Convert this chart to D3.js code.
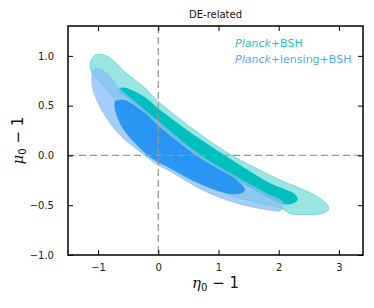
<!DOCTYPE html>
<html>
<head>
<meta charset="utf-8">
<script src="https://cdn.jsdelivr.net/npm/d3@7"></script>
<style>
  body { margin: 0; background: #fff; }
  text { font-family: "DejaVu Sans", sans-serif; }
</style>
</head>
<body>
<svg class="chart"></svg>
<script>
// Contour outlines, in (eta0-1, mu0-1) units
const bshOuter = [
  [-1.133, 0.897], [-1.116, 0.957], [-1.050, 1.007], [-0.967, 1.017], [-0.851, 0.997],
  [-0.718, 0.937], [-0.552, 0.837], [-0.221, 0.676], [-0.005, 0.545], [0.692, 0.214],
  [1.189, 0.013], [1.687, -0.148], [2.068, -0.259], [2.466, -0.359], [2.682, -0.429],
  [2.798, -0.489], [2.831, -0.539], [2.748, -0.579], [2.466, -0.594], [2.184, -0.584],
  [2.068, -0.539], [1.687, -0.479], [1.189, -0.399], [0.692, -0.228], [0.194, -0.027],
  [-0.221, 0.184], [-0.552, 0.404], [-0.751, 0.585], [-0.967, 0.736], [-1.100, 0.826]
];
const bshInner = [
  [-0.635, 0.676], [-0.502, 0.671], [-0.221, 0.585], [-0.005, 0.475], [0.692, 0.164],
  [1.305, -0.077], [1.852, -0.278], [2.101, -0.339], [2.267, -0.389], [2.317, -0.439],
  [2.250, -0.479], [2.068, -0.489], [1.852, -0.429], [1.305, -0.248], [0.692, -0.027],
  [-0.005, 0.314], [-0.303, 0.465], [-0.552, 0.595], [-0.652, 0.636]
];
const lensOuter = [
  [-1.083, 0.857], [-1.017, 0.877], [-0.901, 0.847], [-0.768, 0.766], [-0.635, 0.666],
  [-0.303, 0.495], [-0.005, 0.344], [0.692, 0.003], [1.305, -0.218], [1.852, -0.399],
  [2.035, -0.449], [2.085, -0.489], [2.052, -0.539], [2.018, -0.559], [1.852, -0.549],
  [1.305, -0.479], [0.741, -0.349], [0.194, -0.158], [-0.005, -0.097], [-0.337, 0.053],
  [-0.668, 0.224], [-0.939, 0.455], [-1.083, 0.656], [-1.104, 0.757]
];
const lensInner = [
  [-0.718, 0.545], [-0.668, 0.555], [-0.552, 0.555], [-0.221, 0.425], [-0.005, 0.304],
  [0.692, -0.027], [1.305, -0.248], [1.405, -0.308], [1.438, -0.348], [1.388, -0.378],
  [1.189, -0.388], [0.692, -0.288], [0.194, -0.128], [-0.138, -0.017], [-0.387, 0.123],
  [-0.602, 0.284], [-0.718, 0.455]
];

const xTicks = [-1, 0, 1, 2, 3];
const yTicks = [-1.0, -0.5, 0.0, 0.5, 1.0];
const legendLabels = [['Planck', '+BSH'], ['Planck', '+lensing+BSH']];

const svgWidth = 374;
const svgHeight = 308;
const margin = { top: 26, right: 11, bottom: 53, left: 68 };
const chartWidth = svgWidth - margin.left - margin.right;
const chartHeight = svgHeight - margin.top - margin.bottom;

const svg = d3.select('.chart')
  .attr('width', svgWidth)
  .attr('height', svgHeight);

const chart = svg.append('g')
  .attr('transform', 'translate(' + margin.left + ',' + margin.top + ')');

const xScale = d3.scaleLinear().domain([-1.5, 3.4]).range([0, chartWidth]);
const yScale = d3.scaleLinear().domain([-1, 1.3]).range([chartHeight, 0]);

chart.append('clipPath').attr('id', 'clip')
  .append('rect').attr('width', chartWidth).attr('height', chartHeight);

const area = d3.line()
  .x(d => xScale(d[0]))
  .y(d => yScale(d[1]))
  .curve(d3.curveCatmullRomClosed.alpha(0.5));

const plot = chart.append('g').attr('clip-path', 'url(#clip)');

// Planck+BSH
plot.append('path').datum(bshOuter)
  .attr('d', area).attr('fill', '#98e5e1')
  .attr('stroke', '#55d0cb').attr('stroke-width', 0.7);
plot.append('path').datum(bshInner)
  .attr('d', area).attr('fill', '#00bfbf');

// Planck+lensing+BSH, drawn translucent on top
plot.append('path').datum(lensOuter)
  .attr('d', area).attr('fill', '#88bcf6').attr('fill-opacity', 0.75)
  .attr('stroke', '#86bdf3').attr('stroke-width', 0.7);
plot.append('path').datum(lensInner)
  .attr('d', area).attr('fill', '#1b8ef2').attr('fill-opacity', 0.88);

// Reference dashed lines
plot.append('line')
  .attr('x1', 0).attr('x2', chartWidth)
  .attr('y1', yScale(0)).attr('y2', yScale(0))
  .attr('stroke', '#999').attr('stroke-width', 1.3).attr('stroke-dasharray', '7 4');
plot.append('line')
  .attr('x1', xScale(0)).attr('x2', xScale(0))
  .attr('y1', 0).attr('y2', chartHeight)
  .attr('stroke', '#999').attr('stroke-width', 1.3).attr('stroke-dasharray', '7 4');

// Axes, ticks pointing inward on all four sides
const xAxis = chart.append('g')
  .attr('transform', 'translate(0,' + chartHeight + ')')
  .call(d3.axisBottom(xScale).tickValues(xTicks).tickSize(-5).tickPadding(9).tickFormat(d3.format('d')));
const yAxis = chart.append('g')
  .call(d3.axisLeft(yScale).tickValues(yTicks).tickSize(-5).tickPadding(14).tickFormat(d3.format('.1f')));
const xTop = chart.append('g')
  .call(d3.axisTop(xScale).tickValues(xTicks).tickSize(-5).tickFormat(''));
const yRight = chart.append('g')
  .attr('transform', 'translate(' + chartWidth + ',0)')
  .call(d3.axisRight(yScale).tickValues(yTicks).tickSize(-5).tickFormat(''));

[xAxis, yAxis, xTop, yRight].forEach(g => {
  g.select('.domain').remove();
  g.selectAll('line').attr('stroke', '#000').attr('stroke-width', 1);
  g.selectAll('text').attr('font-size', '10px').attr('fill', '#222')
    .attr('font-family', '"DejaVu Sans", sans-serif');
});

chart.append('rect')
  .attr('width', chartWidth).attr('height', chartHeight)
  .attr('fill', 'none').attr('stroke', '#000').attr('stroke-width', 1.5);

// Title
svg.append('text')
  .attr('x', margin.left + chartWidth / 2).attr('y', 18)
  .attr('text-anchor', 'middle').attr('font-size', '10px').attr('fill', '#111')
  .text('DE-related');

// Legend
const legendColors = ['#1cc6c2', '#55aaf5'];
legendLabels.forEach((lab, i) => {
  const t = chart.append('text')
    .attr('x', 167).attr('y', 21 + i * 16)
    .attr('font-size', '11px').attr('fill', legendColors[i]);
  t.append('tspan').attr('font-style', 'italic').text(lab[0]);
  t.append('tspan').text(lab[1]);
});

// Axis labels
const xLab = svg.append('text')
  .attr('x', margin.left + chartWidth / 2).attr('y', 288)
  .attr('text-anchor', 'middle').attr('font-size', '15px').attr('fill', '#111');
xLab.append('tspan').attr('font-family', '"DejaVu Serif", serif').attr('font-style', 'italic').text('η');
xLab.append('tspan').attr('font-size', '10px').attr('dy', 3).text('0');
xLab.append('tspan').attr('dy', -3).text(' − 1');

const yLab = svg.append('text')
  .attr('transform', 'translate(23,' + (margin.top + chartHeight / 2) + ') rotate(-90)')
  .attr('text-anchor', 'middle').attr('font-size', '15px').attr('fill', '#111');
yLab.append('tspan').attr('font-family', '"DejaVu Serif", serif').attr('font-style', 'italic').text('μ');
yLab.append('tspan').attr('font-size', '10px').attr('dy', 3).text('0');
yLab.append('tspan').attr('dy', -3).text(' − 1');
</script>
</body>
</html>
